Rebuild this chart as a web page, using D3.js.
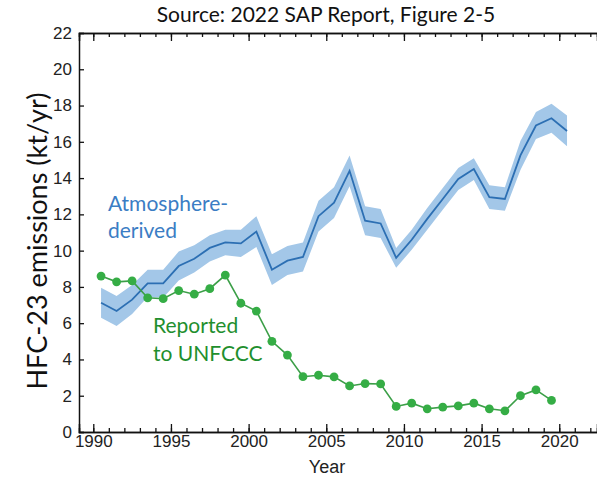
<!DOCTYPE html>
<html>
<head>
<meta charset="utf-8">
<script src="https://d3js.org/d3.v7.min.js"></script>
<style>
body { margin: 0; background: #fff; }
.tick text { font-family: "Liberation Sans", Arial, sans-serif; fill: #222; }
</style>
</head>
<body>
<div id="chart"></div>
<script>
// HFC-23 emissions (kt/yr)
var years = [1990.5, 1991.5, 1992.5, 1993.5, 1994.5, 1995.5, 1996.5, 1997.5, 1998.5, 1999.5,
             2000.5, 2001.5, 2002.5, 2003.5, 2004.5, 2005.5, 2006.5, 2007.5, 2008.5, 2009.5,
             2010.5, 2011.5, 2012.5, 2013.5, 2014.5, 2015.5, 2016.5, 2017.5, 2018.5, 2019.5, 2020.5];

// atmosphere-derived (central estimate and uncertainty band)
var atmos = [7.13, 6.67, 7.3, 8.2, 8.2, 9.15, 9.55, 10.15, 10.45, 10.4,
             11.05, 8.95, 9.45, 9.65, 11.9, 12.65, 14.4, 11.65, 11.5, 9.6,
             10.6, 11.75, 12.85, 13.95, 14.5, 12.95, 12.85, 15.25, 16.9, 17.3, 16.6];
var atmosHi = [7.95, 7.5, 8.1, 8.95, 8.95, 9.95, 10.3, 10.85, 11.15, 11.15,
               11.9, 9.8, 10.25, 10.45, 12.75, 13.5, 15.25, 12.45, 12.3, 10.15,
               11.15, 12.35, 13.45, 14.55, 15.1, 13.6, 13.5, 16.05, 17.65, 18.1, 17.45];
var atmosLo = [6.3, 5.85, 6.5, 7.45, 7.4, 8.35, 8.8, 9.4, 9.75, 9.65,
               10.2, 8.1, 8.65, 8.85, 11.05, 11.8, 13.55, 10.85, 10.7, 9.05,
               10.05, 11.15, 12.25, 13.35, 13.9, 12.3, 12.2, 14.45, 16.15, 16.5, 15.75];

// reported to UNFCCC (ends one year earlier)
var reported = [8.6, 8.28, 8.33, 7.4, 7.35, 7.8, 7.6, 7.9, 8.65, 7.1,
                6.67, 5.0, 4.24, 3.05, 3.13, 3.04, 2.54, 2.67, 2.65, 1.41,
                1.59, 1.28, 1.37, 1.44, 1.59, 1.28, 1.17, 2.0, 2.32, 1.74];

var xMajor = [1990, 1995, 2000, 2005, 2010, 2015, 2020];
var yTicks = [0, 2, 4, 6, 8, 10, 12, 14, 16, 18, 20, 22];

var W = 597, H = 480;
var plotL = 79, plotT = 33, plotB = 432, plotR = 597;

var svg = d3.select("#chart").append("svg")
  .attr("width", W)
  .attr("height", H);

var x = d3.scaleLinear()
  .domain([1989.08, 2022.43])
  .range([plotL, plotR]);

var y = d3.scaleLinear()
  .domain([0, 22])
  .range([plotB, plotT]);

var minorYears = d3.range(1990, 2023);

// uncertainty band
var blueData = years.map(function(yr, i) { return {yr: yr, v: atmos[i], lo: atmosLo[i], hi: atmosHi[i]}; });

svg.append("path")
  .datum(blueData)
  .attr("fill", "#a3c7e8")
  .attr("d", d3.area()
    .x(function(d) { return x(d.yr); })
    .y0(function(d) { return y(d.lo); })
    .y1(function(d) { return y(d.hi); }));

svg.append("path")
  .datum(blueData)
  .attr("fill", "none")
  .attr("stroke", "#2c6fb3")
  .attr("stroke-width", 1.8)
  .attr("d", d3.line()
    .x(function(d) { return x(d.yr); })
    .y(function(d) { return y(d.v); }));

// reported line + markers
var greenData = reported.map(function(v, i) { return {yr: years[i], v: v}; });

svg.append("path")
  .datum(greenData)
  .attr("fill", "none")
  .attr("stroke", "#3c9f48")
  .attr("stroke-width", 1.6)
  .attr("d", d3.line()
    .x(function(d) { return x(d.yr); })
    .y(function(d) { return y(d.v); }));

svg.selectAll("circle.rep")
  .data(greenData)
  .enter()
  .append("circle")
  .attr("class", "rep")
  .attr("cx", function(d) { return x(d.yr); })
  .attr("cy", function(d) { return y(d.v); })
  .attr("r", 4.4)
  .attr("fill", "#35ad45");

// axes: bottom (labelled), top (ticks only), left
var bottomMinor = d3.axisBottom(x).tickValues(minorYears).tickSize(-4).tickFormat("");
svg.append("g").attr("transform", "translate(0," + plotB + ")").call(bottomMinor);

var bottomAxis = d3.axisBottom(x).tickValues(xMajor).tickSize(-8).tickPadding(3).tickFormat(d3.format("d"));
var gb = svg.append("g").attr("transform", "translate(0," + plotB + ")").call(bottomAxis);
gb.selectAll("text").style("font-size", "17px");

var topMinor = d3.axisTop(x).tickValues(minorYears).tickSize(-4).tickFormat("");
svg.append("g").attr("transform", "translate(0," + plotT + ")").call(topMinor);
var topAxis = d3.axisTop(x).tickValues(xMajor).tickSize(-8).tickFormat("");
svg.append("g").attr("transform", "translate(0," + plotT + ")").call(topAxis);

var leftAxis = d3.axisLeft(y).tickValues(yTicks).tickSize(-5).tickPadding(7);
var gl = svg.append("g").attr("transform", "translate(" + plotL + ",0)").call(leftAxis);
gl.selectAll("text").style("font-size", "17px");

svg.selectAll(".domain").attr("stroke", "#111").attr("stroke-width", 1.5);
svg.selectAll(".tick line").attr("stroke", "#111").attr("stroke-width", 1.3);

// title and axis labels
svg.append("text")
  .attr("x", 326)
  .attr("y", 22)
  .attr("text-anchor", "middle")
  .style("font-family", "Lato, 'Open Sans', sans-serif")
  .style("font-size", "21px")
  .attr("fill", "#111")
  .text("Source: 2022 SAP Report, Figure 2-5");

svg.append("text")
  .attr("transform", "translate(47,241) rotate(-90)")
  .attr("text-anchor", "middle")
  .style("font-family", "Lato, 'Open Sans', sans-serif")
  .style("font-size", "27px")
  .attr("fill", "#111")
  .text("HFC-23 emissions (kt/yr)");

svg.append("text")
  .attr("x", 327)
  .attr("y", 473)
  .attr("text-anchor", "middle")
  .style("font-family", "'Liberation Sans', Arial, sans-serif")
  .style("font-size", "18px")
  .attr("fill", "#222")
  .text("Year");

// series annotations
var atmosLabel = svg.append("text")
  .style("font-family", "Lato, 'Open Sans', sans-serif")
  .style("font-size", "21px")
  .attr("fill", "#3b7dc4");
atmosLabel.append("tspan").attr("x", 108).attr("y", 211).text("Atmosphere-");
atmosLabel.append("tspan").attr("x", 108).attr("y", 238).text("derived");

var repLabel = svg.append("text")
  .style("font-family", "Lato, 'Open Sans', sans-serif")
  .style("font-size", "21px")
  .attr("fill", "#1f8f2e");
repLabel.append("tspan").attr("x", 153).attr("y", 333).text("Reported");
repLabel.append("tspan").attr("x", 153).attr("y", 361).text("to UNFCCC");
</script>
</body>
</html>
